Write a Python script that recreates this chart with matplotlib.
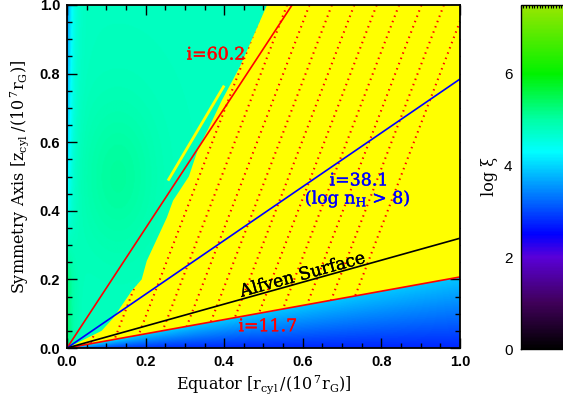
import numpy as np
import matplotlib
matplotlib.use("Agg")
import matplotlib.pyplot as plt
import matplotlib.patheffects as pe
from matplotlib.colors import LinearSegmentedColormap
from matplotlib.patches import Polygon
from matplotlib.ticker import MultipleLocator

plt.rcParams['mathtext.fontset'] = 'dejavuserif'

# inclination lines (degrees from equator) and Alfven surface slope
i_lines = [60.2, 38.1, 11.7]
i_colors = ["#ff0000", "#0000ff", "#ff0000"]
alfven_slope = 0.32

# left edge of the yellow (log n_H > 8) region, from top to the origin
yel_x = [0.509, 0.44, 0.394, 0.36, 0.335, 0.31, 0.27, 0.254, 0.203, 0.19, 0.165, 0.118, 0.088, 0.046, 0.0]
yel_z = [1.0, 0.82, 0.722, 0.64, 0.585, 0.50, 0.43, 0.38, 0.254, 0.20, 0.167, 0.088, 0.05, 0.026, 0.0]
# thin yellow sliver
sliver_x = [0.257, 0.40]
sliver_z = [0.488, 0.765]

# dotted field lines: x where each crosses z=1, slope dz/dr
field_x1 = [0.332, 0.389, 0.446, 0.503, 0.56, 0.617, 0.674, 0.731, 0.788, 0.845, 0.902, 0.959, 1.016]
field_slope = 3.0

# log xi colour table
xi_min, xi_max = 0.0, 7.5
cm_vals = [0.0, 1.0, 2.0, 2.5, 3.3, 4.3, 5.0, 6.0, 7.5]
cm_cols = [(0, 0, 0), (0.25, 0, 0.35), (0.35, 0, 0.85), (0, 0, 1), (0, 0.45, 1),
           (0, 1, 1), (0, 1, 0.65), (0, 0.95, 0), (0.6, 0.9, 0)]

# log xi near the symmetry axis
axis_z = [0.0, 0.05, 0.2, 0.4, 0.6, 1.0]
axis_xi = [5.3, 5.5, 5.4, 4.3, 3.8, 3.3]

cmap = LinearSegmentedColormap.from_list(
    "idl", [((v - xi_min) / (xi_max - xi_min), c) for v, c in zip(cm_vals, cm_cols)])

# background field
n = 400
r = (np.arange(n) + 0.5) / n
R, Z = np.meshgrid(r, r)
theta = np.degrees(np.arctan2(Z, R))
upper = 4.8 + 0.25 * np.exp(-((R - 0.13) ** 2 / 0.01 + (Z - 0.5) ** 2 / 0.05))
w = np.exp(-R / 0.012)
upper = upper * (1 - w) + np.interp(Z, axis_z, axis_xi) * w
lower = 2.75 + 1.15 * (theta / i_lines[2]) + 0.5 * np.exp(-R / 0.1)
field = np.where(theta >= i_lines[2], upper, lower)

fig = plt.figure(figsize=(5.63, 4.0), dpi=100)
ax = fig.add_axes([0.119, 0.13, 0.698, 0.8575])
im = ax.imshow(field, origin="lower", extent=[0, 1, 0, 1], cmap=cmap,
               vmin=xi_min, vmax=xi_max, aspect="auto", interpolation="bilinear")

# yellow region
t_low = np.tan(np.radians(i_lines[2]))
px = [1.0, 1.0] + yel_x + [1.0]
pz = [t_low, 1.0] + yel_z + [t_low]
poly = Polygon(np.column_stack([px, pz]), closed=True, facecolor="#ffff00",
               edgecolor="none", zorder=2)
ax.add_patch(poly)
ax.plot(sliver_x, sliver_z, color="#ffff00", lw=2.0, zorder=2, solid_capstyle="butt")

# dotted field lines clipped to the yellow region
zz = np.array([0.0, 1.0])
for x1 in field_x1:
    xx = x1 - (1 - zz) / field_slope
    ln, = ax.plot(xx, zz, color="#ff0000", lw=1.5, ls=(0, (0.7, 2.0)), zorder=3)
    ln.set_clip_path(poly)

# inclination lines and Alfven surface
xl = np.array([0.0, 1.0])
for ang, col in zip(i_lines, i_colors):
    ax.plot(xl, xl * np.tan(np.radians(ang)), color=col, lw=1.2, zorder=4)
ax.plot(xl, xl * alfven_slope, color="k", lw=1.2, zorder=4)

labels = [("i=60.2", 0.379, 0.854, "#ff0000", 0),
          ("i=38.1", 0.743, 0.487, "#0000ff", 0),
          (r"(log n$_{\rm H}$ > 8)", 0.740, 0.434, "#0000ff", 0),
          ("Alfven Surface", 0.600, 0.212, "k", 15.5),
          ("i=11.7", 0.511, 0.062, "#ff0000", 0)]
for s, x, z, col, rot in labels:
    t = ax.text(x, z, s, color=col, rotation=rot, family="DejaVu Serif", fontsize=12.5,
                ha="center", va="center", zorder=5)
    t.set_path_effects([pe.withStroke(linewidth=0.25, foreground=col)])

ax.set_xlim(0, 1)
ax.set_ylim(0, 1)
ax.xaxis.set_major_locator(MultipleLocator(0.2))
ax.yaxis.set_major_locator(MultipleLocator(0.2))
ax.xaxis.set_minor_locator(MultipleLocator(0.05))
ax.yaxis.set_minor_locator(MultipleLocator(0.05))
ax.tick_params(which="both", direction="in", top=True, right=True, color="k")
ax.tick_params(which="major", length=7, width=1.0, labelsize=10.5, pad=5)
ax.tick_params(which="minor", length=3.5, width=1.0)
for lab in ax.get_xticklabels() + ax.get_yticklabels():
    lab.set_family("Liberation Sans")
    lab.set_weight("bold")
for sp in ax.spines.values():
    sp.set_linewidth(1.3)
    sp.set_zorder(6)
ax.set_xlabel(r"Equator $[\mathrm{r}_{\rm cyl}\,/(10^{\,7}\mathrm{r}_{\rm G})]$",
              family="DejaVu Serif", fontsize=11.5, labelpad=3)
ax.set_ylabel(r"Symmetry Axis $[\mathrm{z}_{\rm cyl}\;/(10^{\,7}\mathrm{r}_{\rm G})]$",
              family="DejaVu Serif", fontsize=11.5, labelpad=6)

# colour bar, running off the right edge
cax = fig.add_axes([0.925, 0.127, 0.12, 0.861])
cb = fig.colorbar(im, cax=cax, ticks=[0, 2, 4, 6])
cax.yaxis.set_ticks_position("left")
cax.yaxis.set_label_position("left")
cax.tick_params(axis="y", length=0, labelsize=11, pad=6)
for lab in cax.get_yticklabels():
    lab.set_family("Liberation Sans")
cax.xaxis.set_ticks_position("top")
cax.set_xticks(np.linspace(0, 1, 26))
cax.set_xticklabels([])
cax.tick_params(axis="x", direction="in", length=2, width=0.8)
cb.outline.set_linewidth(1.0)
cb.set_label("log ξ", family="DejaVu Serif", fontsize=11.5, labelpad=4)

fig.savefig("out.png", dpi=100)
